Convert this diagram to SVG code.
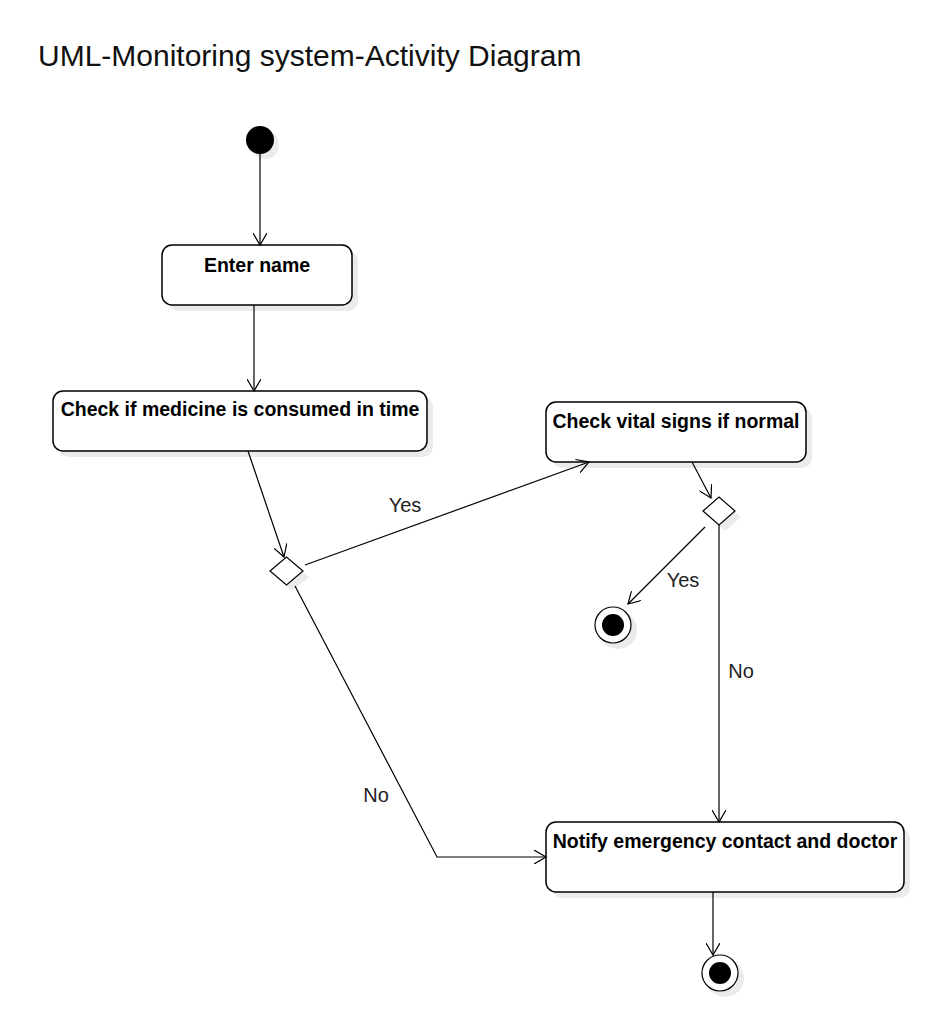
<svg xmlns="http://www.w3.org/2000/svg" width="948" height="1036" viewBox="0 0 948 1036">
<style>
.box{fill:#fff;stroke:#000;stroke-width:1.5}
.sh{fill:#ebebeb;stroke:none}
.t{font-family:"Liberation Sans",Arial,sans-serif;font-weight:bold;font-size:19.5px;fill:#000;text-anchor:middle}
.lbl{font-family:"Liberation Sans",Arial,sans-serif;font-size:20px;fill:#222;text-anchor:middle}
.c{fill:none;stroke:#000;stroke-width:1.2}
</style>
<defs>
<marker id="ar" markerWidth="14" markerHeight="14" refX="12" refY="7" orient="auto" markerUnits="userSpaceOnUse">
<path d="M0,0 L12,7 L0,14" fill="none" stroke="#000" stroke-width="1.2"/>
</marker>
</defs>
<rect width="948" height="1036" fill="#fff"/>
<text x="38" y="66" font-family="'Liberation Sans',Arial,sans-serif" font-size="30" fill="#111">UML-Monitoring system-Activity Diagram</text>

<g id="start">
<circle class="sh" cx="265" cy="145" r="14"/>
<circle cx="260" cy="140" r="14" fill="#000"/>
</g>
<g id="enter-name">
<rect class="sh" x="168" y="251" width="190" height="60" rx="10"/>
<rect class="box" x="162" y="245" width="190" height="60" rx="10"/>
<text class="t" x="257" y="272">Enter name</text>
</g>
<g id="check-medicine">
<rect class="sh" x="59" y="397" width="374" height="60" rx="10"/>
<rect class="box" x="53" y="391" width="374" height="60" rx="10"/>
<text class="t" x="240" y="416">Check if medicine is consumed in time</text>
</g>
<g id="check-vital">
<rect class="sh" x="552" y="408" width="260" height="60" rx="10"/>
<rect class="box" x="546" y="402" width="260" height="60" rx="10"/>
<text class="t" x="676" y="428">Check vital signs if normal</text>
</g>
<g id="notify">
<rect class="sh" x="552" y="828" width="358" height="70" rx="10"/>
<rect class="box" x="546" y="822" width="358" height="70" rx="10"/>
<text class="t" x="725" y="848">Notify emergency contact and doctor</text>
</g>
<g id="decision1">
<polygon class="sh" points="276,577 292,563 309,577 292,591"/>
<polygon points="270,571 286.5,557 303,571 286.5,585" fill="#fff" stroke="#000" stroke-width="1.2"/>
</g>
<g id="decision2">
<polygon class="sh" points="709,517 725,503 741,517 725,531"/>
<polygon points="703,511 719,497 735,511 719,525" fill="#fff" stroke="#000" stroke-width="1.2"/>
</g>
<g id="end1">
<circle class="sh" cx="618" cy="630" r="19"/>
<circle cx="613" cy="625" r="18" fill="#fff" stroke="#000" stroke-width="1.2"/>
<circle cx="613" cy="625" r="11" fill="#000"/>
</g>
<g id="end2">
<circle class="sh" cx="725" cy="978" r="19"/>
<circle cx="720" cy="973" r="18" fill="#fff" stroke="#000" stroke-width="1.2"/>
<circle cx="720" cy="973" r="11" fill="#000"/>
</g>

<g id="connectors">
<line class="c" x1="260" y1="154" x2="260" y2="245" marker-end="url(#ar)"/>
<line class="c" x1="254" y1="305" x2="254" y2="391" marker-end="url(#ar)"/>
<line class="c" x1="248" y1="451" x2="284" y2="557" marker-end="url(#ar)"/>
<line class="c" x1="305" y1="565" x2="589" y2="462" marker-end="url(#ar)"/>
<line class="c" x1="692" y1="462" x2="711" y2="498" marker-end="url(#ar)"/>
<line class="c" x1="705" y1="527" x2="628" y2="604" marker-end="url(#ar)"/>
<line class="c" x1="719" y1="525" x2="719" y2="822" marker-end="url(#ar)"/>
<polyline class="c" points="295,586 437,857 546,857" marker-end="url(#ar)"/>
<line class="c" x1="713" y1="892" x2="713" y2="955" marker-end="url(#ar)"/>
<text class="lbl" x="405" y="512">Yes</text>
<text class="lbl" x="683" y="587">Yes</text>
<text class="lbl" x="741" y="678">No</text>
<text class="lbl" x="376" y="802">No</text>
</g>
</svg>
